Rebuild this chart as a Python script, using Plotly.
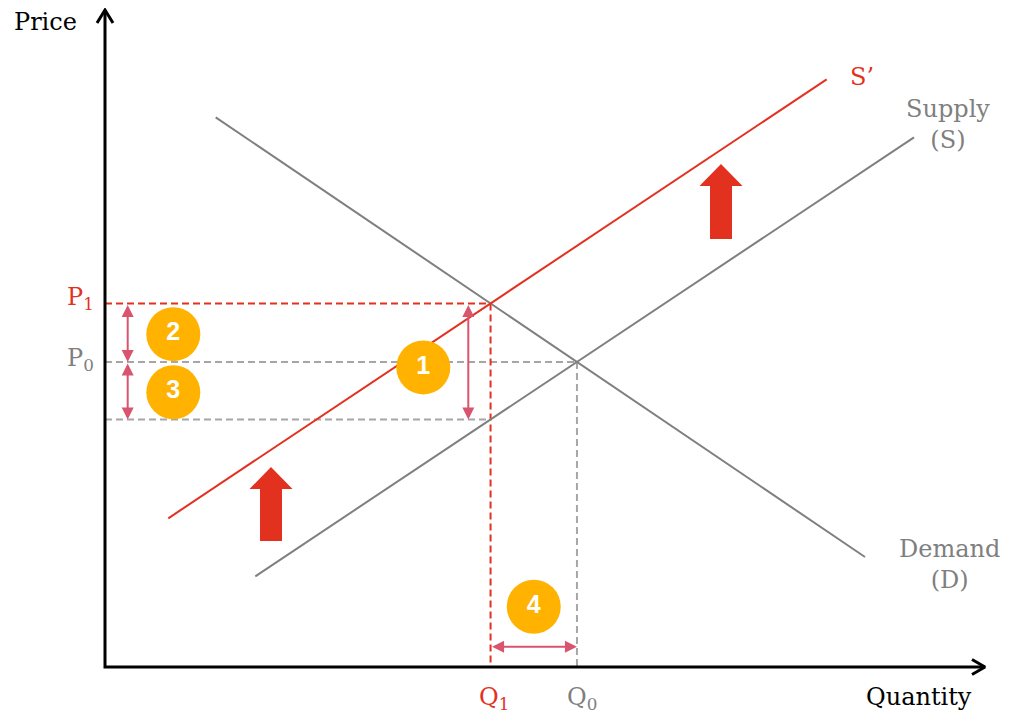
import numpy as np
import plotly.graph_objects as go

# end points of the curves, in (quantity, price) units
demand_q = [11.07, 76.0]
demand_p = [54.97, 11.0]
supply_q = [15.03, 80.9]
supply_p = [9.07, 52.97]
shifted_q = [6.33, 72.17]
shifted_p = [14.87, 58.77]

# length of the two axes
axis_q_max = 88.0
axis_p_max = 65.7

# the two big "supply shifts up" arrows
shift_arrow_q = [16.6, 61.6]
shift_arrow_tip = [20.0, 50.3]
shift_arrow_base = [12.6, 42.8]

badge_labels = ['1', '2', '3', '4']

GREY = '#7F7F7F'
LIGHT_GREY = '#A6A6A6'
RED = '#E2321F'
PINK = '#D9546E'
ORANGE = '#FFB300'
SERIF = 'DejaVu Serif'


def intersect(qa, pa, qb, pb):
    ma = (pa[1] - pa[0]) / (qa[1] - qa[0])
    mb = (pb[1] - pb[0]) / (qb[1] - qb[0])
    q = (pb[0] - pa[0] + ma * qa[0] - mb * qb[0]) / (ma - mb)
    return q, pa[0] + ma * (q - qa[0])


def price_at(qs, ps, q):
    return float(np.interp(q, qs, ps))


q0, p0 = intersect(demand_q, demand_p, supply_q, supply_p)
q1, p1 = intersect(demand_q, demand_p, shifted_q, shifted_p)
p_low = price_at(supply_q, supply_p, q1)

fig = go.Figure()


def seg(xs, ys, color, width=2, dash=None):
    fig.add_trace(go.Scatter(x=xs, y=ys, mode='lines', hoverinfo='skip',
                             line=dict(color=color, width=width, dash=dash)))


# dashed guide lines
dash = '7px,4px'
seg([0, q0], [p0, p0], LIGHT_GREY, dash=dash)
seg([q0, q0], [p0, 0], LIGHT_GREY, dash=dash)
seg([0, q1], [p_low, p_low], LIGHT_GREY, dash=dash)
seg([0, q1], [p1, p1], RED, dash=dash)
seg([q1, q1], [p1, 0], RED, dash=dash)

# curves
seg(demand_q, demand_p, GREY)
seg(supply_q, supply_p, GREY)
seg(shifted_q, shifted_p, RED)

# axes with open arrow heads
seg([0, 0, axis_q_max], [axis_p_max, 0, 0], 'black', width=3)
seg([-0.8, 0, 0.8], [axis_p_max - 1.3, axis_p_max, axis_p_max - 1.3], 'black', width=3)
seg([axis_q_max - 1.3, axis_q_max, axis_q_max - 1.3], [0.75, 0, -0.75], 'black', width=3)

# big shift arrows
head_h, head_w, shaft_w = 2.2, 2.15, 1.1
for cq, tip, base in zip(shift_arrow_q, shift_arrow_tip, shift_arrow_base):
    hb = tip - head_h
    xs = [cq, cq + head_w, cq + shaft_w, cq + shaft_w, cq - shaft_w, cq - shaft_w, cq - head_w, cq]
    ys = [tip, hb, hb, base, base, hb, hb, tip]
    fig.add_trace(go.Scatter(x=xs, y=ys, mode='lines', fill='toself', fillcolor=RED,
                             line=dict(width=0, color=RED), hoverinfo='skip'))

# numbered badges
badge_q = [31.83, 6.83, 6.83, (q1 + q0) / 2]
badge_p = [p0 - 0.55, (p1 + p0) / 2 - 0.15, (p0 + p_low) / 2 - 0.15, 6.03]
fig.add_trace(go.Scatter(
    x=badge_q, y=badge_p, mode='markers+text', text=badge_labels,
    textposition='middle center', hoverinfo='skip',
    marker=dict(size=54, color=ORANGE, line=dict(width=0)),
    textfont=dict(family='Liberation Sans', size=25, color='white', weight='bold'),
))

# pink double arrows
def double_arrow(xa, ya, xb, yb):
    fig.add_annotation(x=xb, y=yb, ax=xa, ay=ya, xref='x', yref='y', axref='x', ayref='y',
                       text='', showarrow=True, arrowhead=2, arrowsize=1.2, arrowwidth=2,
                       arrowcolor=PINK, arrowside='end+start', standoff=0, startstandoff=0)


double_arrow(2.27, p1, 2.27, p0)
double_arrow(2.27, p0, 2.27, p_low)
double_arrow(36.33, p1, 36.33, p_low)
double_arrow(q1, 2.03, q0, 2.03)


def label(text, x, y, color, xanchor='center'):
    fig.add_annotation(x=x, y=y, text=text, showarrow=False, xanchor=xanchor, yanchor='middle',
                       font=dict(family=SERIF, size=24, color=color))


label('Price', -6.0, 64.5, 'black')
label('Quantity', 81.4, -3.0, 'black')
label('P<sub>1</sub>', -0.9, p1 + 0.45, RED, xanchor='right')
label('P<sub>0</sub>', -0.9, p0 + 0.2, GREY, xanchor='right')
label('Q<sub>1</sub>', q1 + 0.3, -3.1, RED)
label('Q<sub>0</sub>', q0 + 0.5, -3.1, GREY)
label('S’', 75.7, 59.0, RED)
label('Supply<br>(S)', 84.3, 54.3, GREY)
label('Demand<br>(D)', 84.4, 10.3, GREY)

# ranges account for the 8px page margin around the plot
fig.update_layout(
    width=1015, height=714,
    margin=dict(l=0, r=0, t=0, b=0),
    showlegend=False,
    plot_bgcolor='white', paper_bgcolor='white',
    xaxis=dict(range=[-9.7, 91.8], visible=False, fixedrange=True),
    yaxis=dict(range=[-5.5, 65.9], visible=False, fixedrange=True),
)

fig.write_html("out.html")
